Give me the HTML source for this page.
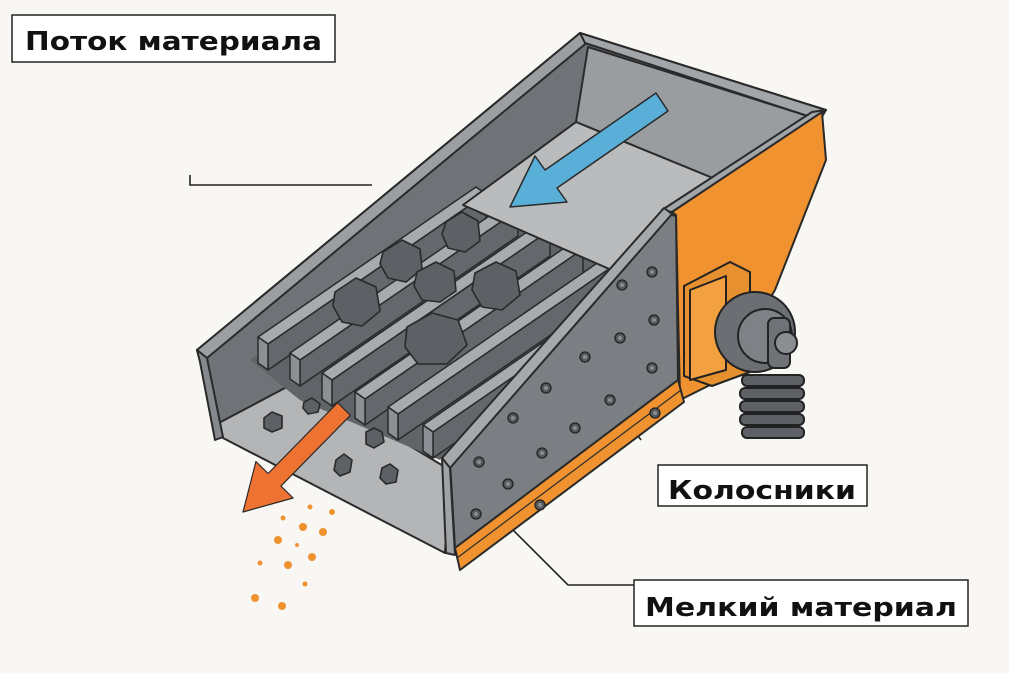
<!DOCTYPE html>
<html><head><meta charset="utf-8"><style>
html,body{margin:0;padding:0;background:#f8f7f4;}
svg{display:block;}
</style></head><body>
<svg width="1009" height="673" viewBox="0 0 1009 673" xmlns="http://www.w3.org/2000/svg">
<defs>
<g id="bar" stroke="#2a2a2a" stroke-width="1.5" stroke-linejoin="round">
  <polygon points="10,7 228,-143 228,-117 10,33" fill="#64676b"/>
  <polygon points="0,0 218,-150 228,-143 10,7" fill="#a8abae"/>
  <polygon points="0,0 10,7 10,33 0,26" fill="#8c8f93"/>
</g>
<g id="rivet"><circle r="5" fill="#55585c" stroke="#222" stroke-width="1.3"/><circle r="2" fill="#8a8d90"/></g>
</defs>
<rect width="1009" height="673" fill="#f8f7f4"/>

<g stroke="#222" stroke-width="1.6" fill="none">
<polyline points="190,175 190,185 372,185"/>
<polyline points="614,402 641,440"/>
<polyline points="506,523 568,585 636,585"/>
</g>

<g stroke="#2a2a2a" stroke-width="2" stroke-linejoin="round">
<polygon points="197,350 580,33 826,110 672,212 445,458 223,437" fill="#6f7276"/>
<polygon points="215,425 300,380 450,470 445,553 223,438" fill="#b3b5b7"/>
<polygon points="197,350 580,33 590,40 207,358" fill="#9c9fa2"/>
<polygon points="197,350 207,358 223,437 215,440 200,362" fill="#85888c"/>
<polygon points="588,47 808,116 720,181 576,122" fill="#9a9da0"/>
</g>
<polygon points="250,360 480,200 620,260 440,460 300,400" fill="#606367"/>

<use href="#bar" x="258" y="337"/>
<use href="#bar" x="290" y="353"/>
<use href="#bar" x="322" y="373"/>
<use href="#bar" x="355" y="392"/>
<use href="#bar" x="388" y="407"/>
<use href="#bar" x="423" y="425"/>

<g stroke="#2a2a2a" stroke-width="2" stroke-linejoin="round">
<polygon points="463,205 576,122 720,181 623,275" fill="#b9bbbd"/>
<polygon points="580,33 826,110 820,120 585,43" fill="#a3a6a9"/>
<polygon points="826,110 672,212 662,210 812,112" fill="#a3a6a9"/>
<polygon points="672,212 822,112 826,160 775,290 720,380 680,400 676,215" fill="#ef922f"/>
<polygon points="450,462 668,214 676,216 678,380 455,548" fill="#7b7e82"/>
<polygon points="442,458 664,208 672,214 450,468" fill="#a6a9ac"/>
<polygon points="442,458 450,468 455,555 446,553" fill="#a0a3a6"/>
<polygon points="455,548 678,380 684,402 460,570" fill="#ef922f"/>
<line x1="457" y1="558" x2="681" y2="390" stroke-width="1.2"/>
</g>

<use href="#rivet" x="652" y="272"/><use href="#rivet" x="622" y="285"/>
<use href="#rivet" x="654" y="320"/><use href="#rivet" x="620" y="338"/>
<use href="#rivet" x="585" y="357"/><use href="#rivet" x="652" y="368"/>
<use href="#rivet" x="546" y="388"/><use href="#rivet" x="610" y="400"/>
<use href="#rivet" x="513" y="418"/><use href="#rivet" x="575" y="428"/>
<use href="#rivet" x="479" y="462"/><use href="#rivet" x="542" y="453"/>
<use href="#rivet" x="508" y="484"/><use href="#rivet" x="476" y="514"/>
<use href="#rivet" x="655" y="413"/><use href="#rivet" x="540" y="505"/>

<g stroke="#222" stroke-width="2" stroke-linejoin="round">
<g fill="#5d6064">
<rect x="742" y="375" width="62" height="11" rx="5"/>
<rect x="740" y="388" width="64" height="11" rx="5"/>
<rect x="740" y="401" width="64" height="11" rx="5"/>
<rect x="740" y="414" width="64" height="11" rx="5"/>
<rect x="742" y="427" width="62" height="11" rx="5"/>
</g>
<polygon points="684,286 730,262 750,272 750,372 712,386 684,376" fill="#e7902f"/>
<polygon points="690,290 726,276 726,370 690,380" fill="#f2a040"/>
<circle cx="755" cy="332" r="40" fill="#6b6e72"/>
<circle cx="765" cy="336" r="27" fill="#7e8185"/>
<rect x="768" y="318" width="22" height="50" rx="6" fill="#6f7276"/>
<circle cx="786" cy="343" r="11" fill="#8c8f92"/>
</g>

<polygon points="656,93 545,170 535,156 510,207 567,202 557,188 668,111" fill="#5aafd8" stroke="#2a2a2a" stroke-width="1.5" stroke-linejoin="round"/>

<g fill="#5d6064" stroke="#2a2a2a" stroke-width="1.6" stroke-linejoin="round">
<polygon points="446,222 462,212 478,221 480,241 465,252 448,248 442,234"/>
<polygon points="383,252 402,240 420,249 422,269 406,282 388,278 380,264"/>
<polygon points="417,272 436,262 454,271 456,291 440,302 422,300 414,286"/>
<polygon points="475,273 496,262 516,271 520,295 502,310 482,307 472,290"/>
<polygon points="335,292 356,278 376,287 380,311 362,326 342,322 333,306"/>
<polygon points="407,327 432,313 458,320 467,345 447,364 418,364 405,347"/>
<polygon points="264,418 272,412 282,416 282,428 272,432 264,428"/>
<polygon points="304,402 312,398 320,404 318,412 308,414 303,408"/>
<polygon points="366,432 374,428 382,432 384,442 374,448 366,444"/>
<polygon points="336,460 344,454 352,460 350,472 340,476 334,470"/>
<polygon points="382,468 390,464 398,470 396,482 386,484 380,478"/>
</g>

<polygon points="337.6,402.7 268.1,473.5 255.9,461.6 243,512 293.1,498 280.9,486.1 350.4,415.3" fill="#ee7333" stroke="#2a2a2a" stroke-width="1.2" stroke-linejoin="round"/>

<g fill="#f0922f">
<circle cx="310" cy="507" r="2.5"/><circle cx="332" cy="512" r="3"/>
<circle cx="283" cy="518" r="2.5"/><circle cx="303" cy="527" r="4"/>
<circle cx="323" cy="532" r="4"/><circle cx="278" cy="540" r="4"/>
<circle cx="297" cy="545" r="2"/><circle cx="312" cy="557" r="4"/>
<circle cx="288" cy="565" r="4"/><circle cx="260" cy="563" r="2.5"/>
<circle cx="255" cy="598" r="4"/><circle cx="282" cy="606" r="4"/>
<circle cx="305" cy="584" r="2.5"/>
</g>

<g font-family="'DejaVu Sans', 'Liberation Sans', sans-serif" font-weight="bold" font-size="26" fill="#111">
<rect x="12" y="15" width="323" height="47" fill="#fff" stroke="#222" stroke-width="1.5"/>
<text x="25" y="50" textLength="297" lengthAdjust="spacingAndGlyphs">Поток материала</text>
<rect x="658" y="465" width="209" height="41" fill="#fff" stroke="#222" stroke-width="1.5"/>
<text x="668" y="499" textLength="188" lengthAdjust="spacingAndGlyphs">Колосники</text>
<rect x="634" y="580" width="334" height="46" fill="#fff" stroke="#222" stroke-width="1.5"/>
<text x="645" y="616" textLength="312" lengthAdjust="spacingAndGlyphs">Мелкий материал</text>
</g>
</svg>
</body></html>
